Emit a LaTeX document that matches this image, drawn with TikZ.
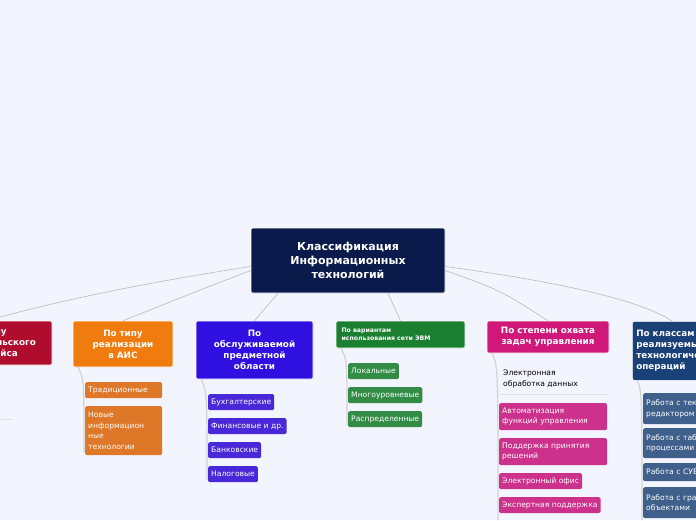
\documentclass[tikz,border=0pt]{standalone}
\usepackage{fontspec}
\setmainfont{DejaVu Sans}
\definecolor{bgc}{RGB}{243,245,254}
\definecolor{cred}{RGB}{176,12,46}
\definecolor{cor}{RGB}{240,124,16}
\definecolor{corl}{RGB}{222,120,40}
\definecolor{cpu}{RGB}{48,16,224}
\definecolor{cpul}{RGB}{72,40,216}
\definecolor{cgr}{RGB}{26,128,48}
\definecolor{cgrl}{RGB}{50,140,70}
\definecolor{cpk}{RGB}{208,24,122}
\definecolor{cpkl}{RGB}{204,50,140}
\definecolor{cbl}{RGB}{26,64,120}
\definecolor{cbll}{RGB}{64,96,140}
\definecolor{cnv}{RGB}{10,26,74}
\begin{document}
\begin{tikzpicture}[x=1pt,y=-1pt,
 hdr/.style={rounded corners=1.5pt,draw=white,line width=0.6pt,text=white,font=\bfseries\fontsize{8.8}{11}\selectfont,align=center,inner sep=2pt},
 leaf/.style={rounded corners=1.5pt,text=white,font=\fontsize{7.6}{10.5}\selectfont,align=left,inner xsep=3pt,inner ysep=2pt,anchor=north west},
 link/.style={draw=gray!55,line width=0.6pt},
 trunk/.style={draw=gray!35,line width=1.2pt}]
\fill[bgc] (0,0) rectangle (696,520);
\clip (0,0) rectangle (696,520);
% center
\node[hdr,fill=cnv,minimum width=194,minimum height=65,text width=150,font=\bfseries\fontsize{11}{14}\selectfont] (c) at (348,260.5) {Классификация Информационных технологий};
% headers
\node[hdr,fill=cred,minimum width=130,minimum height=44,text width=110] (h1) at (-13,343) {По типу пользовательского интерфейса};
\node[hdr,fill=cor,minimum width=100,minimum height=46,text width=86] (h2) at (123,344) {По типу реализации в АИС};
\node[hdr,fill=cpu,minimum width=117,minimum height=58,text width=95] (h3) at (254.5,350) {По обслуживаемой предметной области};
\node[hdr,fill=cgr,minimum width=129,minimum height=27,text width=118,align=left,font=\bfseries\fontsize{6.2}{8.5}\selectfont] (h4) at (400.5,334.5) {По вариантам\\использования сети ЭВМ};
\node[hdr,fill=cpk,minimum width=122,minimum height=32,text width=110] (h5) at (548,337) {По степени охвата задач управления};
\node[hdr,fill=cbl,minimum width=130,minimum height=59,text width=122,align=left,anchor=north west] (h6) at (632,321) {По классам реализуемых технологических операций};
% links center->headers
\draw[link] ([yshift=-6]c.west) .. controls (150,282) and (60,300) .. (h1.north);
\draw[link] ([yshift=-10]c.west) .. controls (200,290) .. (h2.north);
\draw[link] ([xshift=-70]c.south) -- (h3.north);
\draw[link] ([xshift=40]c.south) -- (h4.north);
\draw[link] ([yshift=-10]c.east) .. controls (500,290) .. (h5.north);
\draw[link] ([yshift=-6]c.east) .. controls (560,282) and (640,300) .. ([xshift=40]h6.north west);
% orange
\draw[trunk] (78,367) .. controls (84,380) .. (84,452);
\node[leaf,fill=corl,text width=71,minimum height=16] (o1) at (85,382) {Традиционные};
\node[leaf,fill=corl,text width=71,minimum height=49] (o2) at (85,406) {Новые\\информацион\\ные\\технологии};
% purple
\draw[trunk] (201,379) .. controls (207,392) .. (207,480);
\node[leaf,fill=cpul,minimum height=16] (p1) at (208,394) {Бухгалтерские};
\node[leaf,fill=cpul,minimum height=16] (p2) at (208,418) {Финансовые и др.};
\node[leaf,fill=cpul,minimum height=16] (p3) at (208,442) {Банковские};
\node[leaf,fill=cpul,minimum height=16] (p4) at (208,466) {Налоговые};
% green
\draw[trunk] (341,348) .. controls (347,360) .. (347,425);
\node[leaf,fill=cgrl,minimum height=16] (g1) at (348,363) {Локальные};
\node[leaf,fill=cgrl,minimum height=16] (g2) at (348,387) {Многоуровневые};
\node[leaf,fill=cgrl,minimum height=16] (g3) at (348,411) {Распределенные};
% pink
\draw[trunk] (492,353) .. controls (498,366) .. (498,520);
\node[leaf,text=black] (k0) at (500,368) {Электронная\\обработка данных};
\draw[gray!25,line width=1pt] (500,394) -- (607,394);
\node[leaf,fill=cpkl,text width=102,minimum height=27] (k1) at (499,403) {Автоматизация\\функций управления};
\node[leaf,fill=cpkl,text width=102,minimum height=27] (k2) at (499,438) {Поддержка принятия\\решений};
\node[leaf,fill=cpkl,minimum height=16] (k3) at (499,473) {Электронный офис};
\node[leaf,fill=cpkl,minimum height=16] (k4) at (499,497) {Экспертная поддержка};
% blue
\draw[trunk] (637,380) .. controls (642,392) .. (642,520);
\node[leaf,fill=cbll,text width=114,minimum height=31] (b1) at (643,393) {Работа с текстовым\\редактором};
\node[leaf,fill=cbll,text width=114,minimum height=30] (b2) at (643,428) {Работа с табличными\\процессами};
\node[leaf,fill=cbll,text width=114,minimum height=18] (b3) at (643,463) {Работа с СУБД};
\node[leaf,fill=cbll,text width=114,minimum height=31] (b4) at (643,487) {Работа с графическими\\объектами};
% red children
\node[leaf,fill=cpkl!60,minimum height=15] (r1) at (-58,377) {Пакетный};
\node[leaf,text=black,anchor=west] (r2) at (-36,411) {Клиент};
\draw[gray!25,line width=1pt] (-40,419) -- (12,419);
\end{tikzpicture}
\end{document}
